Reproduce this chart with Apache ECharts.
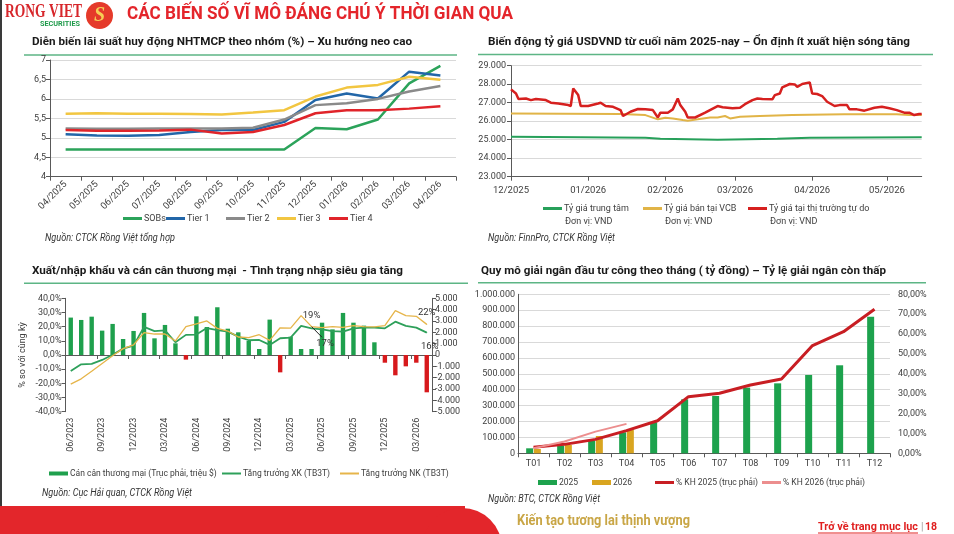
<!DOCTYPE html>
<html lang="vi">
<head>
<meta charset="utf-8">
<title>Các biến số vĩ mô</title>
<script src="https://cdn.jsdelivr.net/npm/echarts@6/dist/echarts.min.js"></script>
<style>
  html, body { margin: 0; padding: 0; background: #fff; }
  #chart { width: 954px; height: 534px; }
</style>
</head>
<body>
<div id="chart"></div>
<script>
// Lãi suất huy động theo nhóm (%)
const rateMonths = ['04/2025', '05/2025', '06/2025', '07/2025', '08/2025', '09/2025', '10/2025',
  '11/2025', '12/2025', '01/2026', '02/2026', '03/2026', '04/2026'];
const rateSOBs = [4.70, 4.70, 4.70, 4.70, 4.70, 4.70, 4.70, 4.70, 5.25, 5.22, 5.47, 6.40, 6.85];
const rateTier1 = [5.09, 5.06, 5.05, 5.07, 5.15, 5.20, 5.20, 5.41, 5.97, 6.14, 6.01, 6.70, 6.60];
const rateTier2 = [5.24, 5.23, 5.23, 5.24, 5.24, 5.24, 5.26, 5.47, 5.84, 5.89, 6.00, 6.19, 6.33];
const rateTier3 = [5.62, 5.63, 5.62, 5.62, 5.61, 5.60, 5.65, 5.71, 6.06, 6.29, 6.36, 6.57, 6.49];
const rateTier4 = [5.20, 5.18, 5.18, 5.19, 5.21, 5.11, 5.15, 5.33, 5.63, 5.71, 5.71, 5.75, 5.81];

// Tỷ giá USDVND
const fxTickMonths = ['2025-12-01', '2026-01-01', '2026-02-01', '2026-03-01', '2026-04-01', '2026-05-01'];
const fxFreeDates = ['2025-12-01', '2025-12-03', '2025-12-04', '2025-12-07', '2025-12-09', '2025-12-11',
  '2025-12-15', '2025-12-17', '2025-12-20', '2025-12-24', '2025-12-25', '2025-12-26', '2025-12-28',
  '2025-12-29', '2026-01-01', '2026-01-05', '2026-01-06', '2026-01-08', '2026-01-11', '2026-01-14',
  '2026-01-15', '2026-01-18', '2026-01-21', '2026-01-24', '2026-01-27', '2026-01-29', '2026-01-30',
  '2026-02-02', '2026-02-04', '2026-02-06', '2026-02-07', '2026-02-09', '2026-02-10', '2026-02-13',
  '2026-02-17', '2026-02-22', '2026-02-24', '2026-02-28', '2026-03-03', '2026-03-05', '2026-03-08',
  '2026-03-10', '2026-03-12', '2026-03-16', '2026-03-17', '2026-03-19', '2026-03-20', '2026-03-23',
  '2026-03-25', '2026-03-26', '2026-03-28', '2026-03-31', '2026-04-01', '2026-04-03', '2026-04-05',
  '2026-04-07', '2026-04-10', '2026-04-12', '2026-04-15', '2026-04-16', '2026-04-19', '2026-04-22',
  '2026-04-26', '2026-04-29', '2026-05-02', '2026-05-05', '2026-05-08', '2026-05-10', '2026-05-12',
  '2026-05-14', '2026-05-15'];
const fxFree = [27720, 27500, 27200, 27230, 27140, 27200, 27140, 27000, 26960, 26870, 26820, 27770, 27410,
  26820, 26820, 26960, 27000, 26820, 26780, 26600, 26280, 26510, 26660, 26640, 26600, 26200, 26460,
  26460, 26640, 27230, 26870, 26510, 26200, 26200, 26460, 26820, 26750, 26700, 26730, 26920, 27140,
  27230, 27200, 27180, 27410, 27500, 27830, 28010, 27990, 27860, 28010, 28100, 27500, 27470, 27360,
  27050, 26820, 26870, 26870, 26640, 26640, 26570, 26730, 26780, 26700, 26600, 26460, 26460, 26330,
  26390, 26390];
const fxVcbDates = ['2025-12-01', '2026-01-14', '2026-01-24', '2026-01-29', '2026-02-01', '2026-02-04',
  '2026-02-08', '2026-02-10', '2026-02-14', '2026-02-19', '2026-02-22', '2026-02-25', '2026-02-27',
  '2026-03-03', '2026-03-11', '2026-03-24', '2026-04-14', '2026-05-05', '2026-05-10', '2026-05-15'];
const fxVcb = [26420, 26390, 26330, 26100, 26190, 26150, 26060, 26030, 26100, 26200, 26200, 26280, 26150,
  26240, 26280, 26330, 26370, 26370, 26330, 26330];
const fxCentralDates = ['2025-12-01', '2025-12-29', '2026-01-24', '2026-01-30', '2026-02-22', '2026-03-18',
  '2026-03-31', '2026-05-15'];
const fxCentral = [25160, 25130, 25110, 25050, 25000, 25050, 25110, 25130];

// Xuất nhập khẩu và cán cân thương mại
const tradeMonths = ['06/2023', '07/2023', '08/2023', '09/2023', '10/2023', '11/2023', '12/2023',
  '01/2024', '02/2024', '03/2024', '04/2024', '05/2024', '06/2024', '07/2024', '08/2024', '09/2024',
  '10/2024', '11/2024', '12/2024', '01/2025', '02/2025', '03/2025', '04/2025', '05/2025', '06/2025',
  '07/2025', '08/2025', '09/2025', '10/2025', '11/2025', '12/2025', '01/2026', '02/2026', '03/2026', '04/2026'];
const tradeBalance = [3300, 3090, 3380, 2150, 2740, 1410, 2120, 3710, 1470, 2650, 1030, -410, 3410, 2470,
  4210, 2320, 2000, 1240, 530, 3120, -1530, 1620, 530, 530, 2850, 2260, 3710, 2850, 2590, 1120, -680,
  -1790, -1000, -680, -3290];
const exportGrowth = [-11.3, -6.6, -6.3, -3.5, 0.2, 4.5, 6.6, 19.8, 16.8, 17.4, 9.0, 14.2, 14.4, 19.0,
  17.5, 16.5, 13.0, 10.4, 10.6, 7.1, 11.8, 12.2, 20.5, 18.8, 18.1, 16.9, 16.5, 18.8, 19.3, 19.3, 18.8,
  23.5, 20.5, 19.3, 15.8];
const importGrowth = [-20.6, -16.8, -11.5, -6.0, -0.5, 4.5, 7.2, 15.8, 14.8, 14.8, 9.9, 20.0, 21.9, 24.0,
  18.8, 16.9, 12.7, 12.2, 14.3, 10.3, 19.2, 18.9, 27.8, 20.0, 19.3, 20.0, 19.5, 20.7, 20.0, 19.8, 20.7,
  31.3, 27.8, 27.3, 21.6];
const exportNotes = { 24: '17%', 34: '16%' };
const importNotes = { 23: '19%', 34: '22%' };

// Giải ngân đầu tư công
const disbMonths = ['T01', 'T02', 'T03', 'T04', 'T05', 'T06', 'T07', 'T08', 'T09', 'T10', 'T11', 'T12'];
const disb2025 = [31400, 48200, 77600, 132000, 195000, 339600, 360600, 413000, 440000, 492700, 553500, 859500];
const disb2026 = [27000, 52400, 109000, 146800];
const plan2025 = [3.0, 4.5, 7.0, 11.4, 16.4, 28.5, 30.2, 34.4, 37.4, 54.2, 61.2, 72.5];
const plan2026 = [2.5, 5.9, 10.9, 14.8];

const FONT = 'Roboto, "Noto Sans", sans-serif';
const AXIS = '#595959';
const LABEL = '#404040';
const SPLIT = '#d9d9d9';
const UNDERLINE = '#5DB585';

const toTime = s => { const p = s.split('-').map(Number); return new Date(p[0], p[1] - 1, p[2]).getTime(); };
const zip = (dates, vals) => dates.map((d, i) => [toTime(d), vals[i]]);
const dots = v => String(Math.round(v)).replace(/\B(?=(\d{3})+(?!\d))/g, '.');
const comma = v => String(v).replace('.', ',');

const measure = document.createElement('canvas').getContext('2d');
function fitText(text, font, left, width, y, fill) {
  measure.font = font;
  const w = measure.measureText(text).width || width;
  return {
    type: 'text', x: left, y: y, scaleX: width / w, z: 10,
    style: { text: text, font: font, fill: fill, textAlign: 'left', textVerticalAlign: 'middle' }
  };
}
function rule(x1, x2, y) {
  return { type: 'line', shape: { x1: x1, y1: y, x2: x2, y2: y }, style: { stroke: UNDERLINE, lineWidth: 1.5 } };
}
function legendItem(name, left, cy, iconH, size, color) {
  const item = { name: name };
  if (color) item.itemStyle = { color: color };
  return {
    data: [item], left: left, top: cy - 6, icon: 'rect', itemWidth: 19, itemHeight: iconH,
    itemGap: 0, padding: 0, selectedMode: false,
    textStyle: { fontSize: size, color: LABEL, fontFamily: FONT, padding: [0, 0, 0, -3] }
  };
}
// labelled points on a line that otherwise has no symbols
function noted(values, notes, position, distance, dx) {
  return values.map((v, i) => notes[i] ? {
    value: v, symbol: 'circle', symbolSize: 1,
    label: { show: true, position: position, distance: distance, offset: [dx, 0], formatter: notes[i], color: '#333', fontSize: 9.5 }
  } : v);
}
const axisLine = { show: true, lineStyle: { color: AXIS, width: 1 } };
const axisTick = { show: true, length: 4, lineStyle: { color: AXIS } };
const label = extra => Object.assign({ color: LABEL, fontSize: 9, fontFamily: FONT }, extra);
const monthTicks = fxTickMonths.map(toTime);

const chart = echarts.init(document.getElementById('chart'), null, { renderer: 'canvas' });

const green = '#1FA04D', red = '#D7191C';

chart.setOption({
  animation: false,
  backgroundColor: '#fff',
  textStyle: { fontFamily: FONT },
  grid: [
    { left: 50, top: 60, width: 406, height: 116.7 },
    { left: 511, top: 65.7, width: 410.7, height: 111 },
    { left: 65.5, top: 298.3, width: 366.5, height: 113.4 },
    { left: 518, top: 294.3, width: 372, height: 159 }
  ],
  xAxis: [
    { type: 'category', gridIndex: 0, data: rateMonths, axisLine: axisLine, axisTick: axisTick,
      axisLabel: label({ rotate: 45, interval: 0, margin: 6, fontSize: 9.5 }) },
    { type: 'value', gridIndex: 1, min: toTime('2025-12-01'), max: toTime('2026-05-15'),
      axisLine: axisLine, splitLine: { show: false },
      axisTick: { show: true, length: 4, lineStyle: { color: AXIS }, customValues: monthTicks },
      axisLabel: label({ fontSize: 9.5, margin: 9, customValues: monthTicks,
        formatter: v => { const d = new Date(v); return String(d.getMonth() + 1).padStart(2, '0') + '/' + d.getFullYear(); } }) },
    { type: 'category', gridIndex: 2, data: tradeMonths, position: 'bottom',
      axisLine: { show: true, onZero: true, lineStyle: { color: AXIS } },
      axisTick: { show: true, interval: 2, length: 4, lineStyle: { color: AXIS } },
      axisLabel: { show: false } },
    { type: 'category', gridIndex: 2, data: tradeMonths, position: 'bottom',
      axisLine: { show: false, onZero: false }, axisTick: { show: false },
      axisLabel: label({ rotate: 90, interval: 2, margin: 6 }) },
    { type: 'category', gridIndex: 3, data: disbMonths, axisLine: axisLine, axisTick: axisTick,
      axisLabel: label({ margin: 6 }) }
  ],
  yAxis: [
    { type: 'value', gridIndex: 0, min: 4, max: 7, interval: 0.5, axisLine: axisLine, axisTick: axisTick,
      axisLabel: label({ margin: 4, formatter: comma }), splitLine: { lineStyle: { color: SPLIT } } },
    { type: 'value', gridIndex: 1, min: 23000, max: 29000, interval: 1000, axisLine: axisLine,
      axisTick: axisTick, axisLabel: label({ margin: 5, formatter: dots }),
      splitLine: { lineStyle: { color: SPLIT } } },
    { type: 'value', gridIndex: 2, min: -40, max: 40, interval: 10, axisLine: axisLine, axisTick: axisTick,
      splitLine: { show: false }, axisLabel: label({ margin: 4, formatter: v => v.toFixed(1).replace('.', ',') + '%' }),
      name: '% so với cùng kỳ', nameLocation: 'middle', nameGap: 38,
      nameTextStyle: { color: LABEL, fontSize: 9, fontFamily: FONT } },
    { type: 'value', gridIndex: 2, position: 'right', min: -5000, max: 5000, interval: 1000,
      axisLine: axisLine, axisTick: axisTick, splitLine: { show: false },
      axisLabel: label({ margin: 3, formatter: dots }) },
    { type: 'value', gridIndex: 3, min: 0, max: 1000000, interval: 100000, axisLine: axisLine,
      axisTick: { show: false }, axisLabel: label({ margin: 3, formatter: dots }),
      splitLine: { lineStyle: { color: SPLIT } } },
    { type: 'value', gridIndex: 3, position: 'right', min: 0, max: 80, interval: 10,
      axisLine: { show: false }, axisTick: { show: false }, splitLine: { show: false },
      axisLabel: label({ margin: 8, formatter: v => v.toFixed(2).replace('.', ',') + '%' }) }
  ],
  legend: [
    legendItem('SOBs', 123, 220, 3, 9),
    legendItem('Tier 1', 166, 220, 3, 9),
    legendItem('Tier 2', 226, 220, 3, 9),
    legendItem('Tier 3', 277, 220, 3, 9),
    legendItem('Tier 4', 329, 220, 3, 9),
    legendItem('Tỷ giá trung tâm', 543, 210, 3, 9),
    legendItem('Tỷ giá bán tại VCB', 643, 210, 3, 9),
    legendItem('Tỷ giá tại thị trường tự do', 748, 210, 3, 9),
    legendItem('Cán cân thương mại (Trục phải, triệu $)', 49, 475, 4, 8.5, green),
    legendItem('Tăng trưởng XK (TB3T)', 222, 475, 2, 8.5),
    legendItem('Tăng trưởng NK (TB3T)', 340, 475, 2, 8.5),
    legendItem('2025', 538, 484, 5, 8.5),
    legendItem('2026', 592, 484, 5, 8.5),
    legendItem('% KH 2025 (trục phải)', 655, 484, 3, 8.5),
    legendItem('% KH 2026 (trục phải)', 762, 484, 3, 8.5)
  ],
  series: [
    { name: 'SOBs', type: 'line', xAxisIndex: 0, yAxisIndex: 0, data: rateSOBs, symbol: 'none', color: '#2BA35A', lineStyle: { width: 2.5 } },
    { name: 'Tier 1', type: 'line', xAxisIndex: 0, yAxisIndex: 0, data: rateTier1, symbol: 'none', color: '#2266A8', lineStyle: { width: 2.5 } },
    { name: 'Tier 2', type: 'line', xAxisIndex: 0, yAxisIndex: 0, data: rateTier2, symbol: 'none', color: '#8A8A8A', lineStyle: { width: 2.5 } },
    { name: 'Tier 3', type: 'line', xAxisIndex: 0, yAxisIndex: 0, data: rateTier3, symbol: 'none', color: '#F2C641', lineStyle: { width: 2.5 } },
    { name: 'Tier 4', type: 'line', xAxisIndex: 0, yAxisIndex: 0, data: rateTier4, symbol: 'none', color: '#E0242A', lineStyle: { width: 2.5 } },

    { name: 'Tỷ giá trung tâm', type: 'line', xAxisIndex: 1, yAxisIndex: 1, data: zip(fxCentralDates, fxCentral), symbol: 'none', color: '#27A05A', lineStyle: { width: 2 } },
    { name: 'Tỷ giá bán tại VCB', type: 'line', xAxisIndex: 1, yAxisIndex: 1, data: zip(fxVcbDates, fxVcb), symbol: 'none', color: '#E1B447', lineStyle: { width: 2 } },
    { name: 'Tỷ giá tại thị trường tự do', type: 'line', xAxisIndex: 1, yAxisIndex: 1, data: zip(fxFreeDates, fxFree), symbol: 'none', color: '#D6201F', lineStyle: { width: 2.5 } },

    { name: 'Cán cân thương mại (Trục phải, triệu $)', type: 'bar', xAxisIndex: 2, yAxisIndex: 3, data: tradeBalance,
      barWidth: '42%', itemStyle: { color: p => (p.value >= 0 ? green : red) } },
    { name: 'Tăng trưởng XK (TB3T)', type: 'line', xAxisIndex: 2, yAxisIndex: 2, symbol: 'none', showAllSymbol: true, z: 3,
      color: '#2EA05A', lineStyle: { width: 1.8 }, data: noted(exportGrowth, exportNotes, 'bottom', 9, 3) },
    { name: 'Tăng trưởng NK (TB3T)', type: 'line', xAxisIndex: 2, yAxisIndex: 2, symbol: 'none', showAllSymbol: true, z: 3,
      color: '#E6B54A', lineStyle: { width: 1.3 }, data: noted(importGrowth, importNotes, 'top', 6, 0),
      markLine: { silent: true, symbol: 'none', label: { show: false }, lineStyle: { color: '#222', width: 1, type: 'solid' },
        data: [[{ coord: [23, 20] }, { coord: [24.3, 12.5] }]] } },

    { name: '2025', type: 'bar', xAxisIndex: 4, yAxisIndex: 4, data: disb2025, barWidth: 7, barGap: '10%', color: '#1DA24D' },
    { name: '2026', type: 'bar', xAxisIndex: 4, yAxisIndex: 4, data: disb2026, barWidth: 7, barGap: '10%', color: '#D9A520' },
    { name: '% KH 2025 (trục phải)', type: 'line', xAxisIndex: 4, yAxisIndex: 5, data: plan2025, symbol: 'none', color: '#C81E23', lineStyle: { width: 3 }, z: 4 },
    { name: '% KH 2026 (trục phải)', type: 'line', xAxisIndex: 4, yAxisIndex: 5, data: plan2026, symbol: 'none', color: '#EC8E8E', lineStyle: { width: 2 }, z: 4 }
  ],
  graphic: {
    elements: [
      { type: 'rect', shape: { x: 0, y: 0, width: 2, height: 534 }, style: { fill: '#3a3a3a' } },
      fitText('RONG VIET', 'bold 19px "Liberation Serif"', 5, 77, 12, '#D7262B'),
      fitText('SECURITIES', 'bold 7px Roboto', 40, 40, 24.5, '#1E9A4A'),
      { type: 'circle', shape: { cx: 99.5, cy: 15.5, r: 13.5 }, style: { fill: '#E53A2A' } },
      { type: 'text', x: 99.5, y: 16, style: { text: 'S', font: 'italic bold 20px "Liberation Serif"', fill: '#F6CF55', textAlign: 'center', textVerticalAlign: 'middle' } },
      fitText('CÁC BIẾN SỐ VĨ MÔ ĐÁNG CHÚ Ý THỜI GIAN QUA', 'bold 19px Roboto', 127, 386, 14, '#E4252B'),

      fitText('Diễn biến lãi suất huy động NHTMCP theo nhóm (%) – Xu hướng neo cao', 'bold 11px Roboto', 32, 380, 42.5, '#1a1a1a'),
      rule(24, 457, 55),
      fitText('Nguồn: CTCK Rồng Việt tổng hợp', 'italic 10px Roboto', 45, 130, 238.5, '#333'),

      fitText('Biến động tỷ giá USDVND từ cuối năm 2025-nay – Ổn định ít xuất hiện sóng tăng', 'bold 11px Roboto', 488, 422, 42.5, '#1a1a1a'),
      rule(478, 933, 54.5),
      { type: 'text', x: 565, y: 222, style: { text: 'Đơn vị: VND', font: '9px Roboto', fill: LABEL, textVerticalAlign: 'middle' } },
      { type: 'text', x: 665, y: 222, style: { text: 'Đơn vị: VND', font: '9px Roboto', fill: LABEL, textVerticalAlign: 'middle' } },
      { type: 'text', x: 770, y: 222, style: { text: 'Đơn vị: VND', font: '9px Roboto', fill: LABEL, textVerticalAlign: 'middle' } },
      fitText('Nguồn: FinnPro, CTCK Rồng Việt', 'italic 10px Roboto', 488, 127, 238.5, '#333'),

      fitText('Xuất/nhập khẩu và cán cân thương mại  - Tình trạng nhập siêu gia tăng', 'bold 11px Roboto', 32, 371, 271.7, '#1a1a1a'),
      rule(24, 468, 283.3),
      fitText('Nguồn: Cục Hải quan, CTCK Rồng Việt', 'italic 10px Roboto', 42, 150, 493.5, '#333'),

      fitText('Quy mô giải ngân đầu tư công theo tháng ( tỷ đồng) – Tỷ lệ giải ngân còn thấp', 'bold 11px Roboto', 481, 405, 271.7, '#1a1a1a'),
      rule(478, 926, 282.7),
      fitText('Nguồn: BTC, CTCK Rồng Việt', 'italic 10px Roboto', 488, 112, 499.5, '#333'),

      { type: 'rect', shape: { x: 0, y: 506, width: 465, height: 28 }, style: { fill: '#E3262B' } },
      { type: 'circle', shape: { cx: 462, cy: 548, r: 40 }, style: { fill: '#E3262B' } },
      fitText('Kiến tạo tương lai thịnh vượng', 'bold 14px Roboto', 517, 173, 521, '#C9A646'),
      fitText('Trở về trang mục lục', 'bold 10.5px Roboto', 818, 100, 527, '#E02020'),
      { type: 'line', shape: { x1: 818, y1: 533, x2: 918, y2: 533 }, style: { stroke: '#E02020', lineWidth: 1 } },
      { type: 'text', x: 921, y: 527, style: { text: '|', font: '10px Roboto', fill: '#9a9a9a', textVerticalAlign: 'middle' } },
      { type: 'text', x: 925, y: 527, style: { text: '18', font: 'bold 10.5px Roboto', fill: '#E02020', textVerticalAlign: 'middle' } }
    ]
  }
});
</script>
</body>
</html>
